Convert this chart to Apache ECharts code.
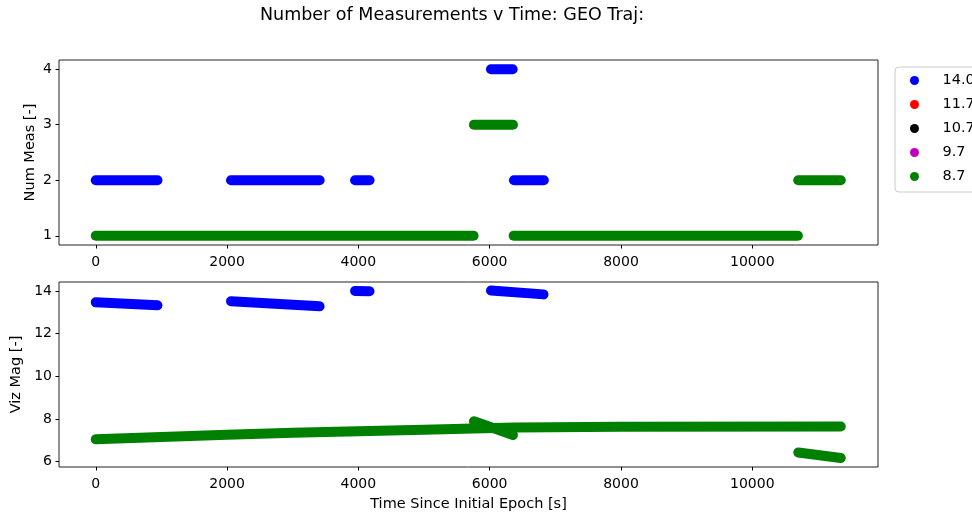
<!DOCTYPE html>
<html>
<head>
<meta charset="utf-8">
<script src="https://cdn.jsdelivr.net/npm/echarts@6/dist/echarts.min.js"></script>
<style>html,body{margin:0;padding:0;background:#fff;}#c{width:972px;height:514px;}</style>
</head>
<body>
<div id="c"></div>
<script>
// ---- labels ----
const chartTitle = 'Number of Measurements v Time: GEO Traj:';
const sensorNames = ['14.0', '11.7', '10.7', '9.7', '8.7'];
const sensorColors = ['#0000ff', '#ff0000', '#000000', '#bf00bf', '#008000'];
const timeTicks = [0, 2000, 4000, 6000, 8000, 10000];
const countTicks = [1, 2, 3, 4];
const magTicks = [6, 8, 10, 12, 14];

// ---- top panel: number of measurements [t (s), count] ----
const blueCount1 = [[0, 2], [940, 2]];
const blueCount2 = [[2060, 2], [3410, 2]];
const blueCount3 = [[3950, 2], [4170, 2]];
const blueCount4 = [[6020, 4], [6350, 4]];
const blueCount5 = [[6370, 2], [6825, 2]];
const greenCount1 = [[0, 1], [5755, 1]];
const greenCount2 = [[5760, 3], [6355, 3]];
const greenCount3 = [[6365, 1], [10695, 1]];
const greenCount4 = [[10700, 2], [11348, 2]];

// ---- bottom panel: visual magnitude [t (s), mag] ----
const blueMag1 = [[0, 13.47], [940, 13.33]];
const blueMag2 = [[2060, 13.52], [3410, 13.28]];
const blueMag3 = [[3950, 14.0], [4170, 13.99]];
const blueMag4 = [[6020, 14.02], [6820, 13.84]];
const greenMagMain = [[0, 7.05], [1000, 7.16], [2000, 7.26], [3000, 7.35], [4000, 7.43],
                      [5000, 7.5], [5750, 7.55], [6400, 7.6], [8000, 7.64], [11348, 7.65]];
const greenMagBump = [[5760, 7.89], [6355, 7.25]];
const greenMagLate = [[10700, 6.43], [11348, 6.17]];

const FONT = 'DejaVu Sans';

function track(idx, axis, pts) {
  return {
    name: sensorNames[idx], type: 'line', xAxisIndex: axis, yAxisIndex: axis,
    data: pts, showSymbol: false, symbol: 'circle', color: sensorColors[idx],
    lineStyle: { width: 10, cap: 'round', join: 'round', color: sensorColors[idx] },
    silent: true, animation: false, clip: true
  };
}
function emptySeries(idx) {
  return { name: sensorNames[idx], type: 'line', xAxisIndex: 0, yAxisIndex: 0, data: [],
           color: sensorColors[idx], symbol: 'circle', animation: false };
}

const series = [
  track(0, 0, blueCount1), track(0, 0, blueCount2), track(0, 0, blueCount3),
  track(0, 0, blueCount4), track(0, 0, blueCount5),
  track(0, 1, blueMag1), track(0, 1, blueMag2), track(0, 1, blueMag3), track(0, 1, blueMag4),
  emptySeries(1), emptySeries(2), emptySeries(3),
  track(4, 0, greenCount1), track(4, 0, greenCount2), track(4, 0, greenCount3), track(4, 0, greenCount4),
  track(4, 1, greenMagMain), track(4, 1, greenMagBump), track(4, 1, greenMagLate)
];

const plain = function (v) { return String(v); };

function xAxis(gridIndex, withName) {
  return {
    type: 'value', gridIndex: gridIndex, min: -560, max: 11915,
    axisLine: { show: false, onZero: false },
    axisTick: { show: true, length: 3.5, customValues: timeTicks, lineStyle: { color: '#000', width: 1 } },
    axisLabel: { customValues: timeTicks, formatter: plain, color: '#000', fontFamily: FONT, fontSize: 14, margin: 10 },
    splitLine: { show: false },
    name: withName ? 'Time Since Initial Epoch [s]' : '',
    nameLocation: 'middle', nameGap: 30, nameMoveOverlap: false,
    nameTextStyle: { color: '#000', fontFamily: FONT, fontSize: 14.5 }
  };
}
function yAxis(gridIndex, min, max, ticks, name, gap) {
  return {
    type: 'value', gridIndex: gridIndex, min: min, max: max,
    axisLine: { show: false, onZero: false },
    axisTick: { show: true, length: 3.5, customValues: ticks, lineStyle: { color: '#000', width: 1 } },
    axisLabel: { customValues: ticks, formatter: plain, color: '#000', fontFamily: FONT, fontSize: 14, margin: 7 },
    splitLine: { show: false },
    name: name, nameLocation: 'middle', nameGap: gap, nameMoveOverlap: false,
    nameTextStyle: { color: '#000', fontFamily: FONT, fontSize: 14.5 }
  };
}

const chart = echarts.init(document.getElementById('c'), null, { renderer: 'canvas' });
chart.setOption({
  backgroundColor: '#fff',
  animation: false,
  title: {
    text: chartTitle, left: 260, top: 6, padding: 0,
    textStyle: { color: '#000', fontFamily: FONT, fontSize: 17.5, fontWeight: 'normal' }
  },
  legend: {
    data: sensorNames, orient: 'vertical', left: 895, top: 67,
    icon: 'circle', itemWidth: 28, itemHeight: 9, itemGap: 9,
    padding: [6, 40, 8, 15],
    borderColor: '#cccccc', borderWidth: 1, borderRadius: 4, backgroundColor: '#fff',
    selectedMode: false,
    textStyle: { color: '#000', fontFamily: FONT, fontSize: 14.5, lineHeight: 14, padding: [0, 0, 0, 9] }
  },
  grid: [
    { left: 59, top: 60, width: 819, height: 185, show: true, borderColor: '#222', borderWidth: 1, backgroundColor: 'transparent' },
    { left: 59, top: 282, width: 819, height: 185, show: true, borderColor: '#222', borderWidth: 1, backgroundColor: 'transparent' }
  ],
  xAxis: [xAxis(0, false), xAxis(1, true)],
  yAxis: [
    yAxis(0, 0.835, 4.165, countTicks, 'Num Meas [-]', 21),
    yAxis(1, 5.75, 14.42, magTicks, 'Viz Mag [-]', 35)
  ],
  series: series
});
</script>
</body>
</html>
